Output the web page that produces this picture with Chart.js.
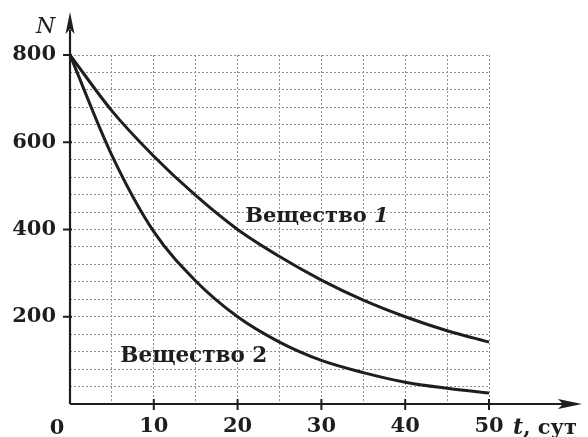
<!DOCTYPE html>
<html><head><meta charset="utf-8">
<script src="https://cdn.jsdelivr.net/npm/chart.js@4"></script>
<style>html,body{margin:0;padding:0;background:#fff}#wrap{width:588px;height:437px}</style>
</head><body><div id="wrap"><canvas id="c" width="588" height="437"></canvas></div>
<script>
const days = [0,5,10,15,20,25,30,35,40,45,50];
const substance1 = [800,672,568,478,400,338,284,238,200,168,142];
const substance2 = [800,570,395,282,200,142,100,72,50,36,25];
const seriesNames = ['Вещество 1','Вещество 2'];
const yLabelTicks = [200,400,600,800];
const xLabelTicks = [0,10,20,30,40,50];

const INK = '#1e1e1e';
const GRID = '#8f8f8f';
const FONT = '"DejaVu Serif", "Liberation Serif", serif';

const decor = {
  id:'decor',
  afterDraw(chart){
    const ctx = chart.ctx, xs = chart.scales.x, ys = chart.scales.y;
    const x0 = xs.getPixelForValue(0), y0 = ys.getPixelForValue(0);
    ctx.save();
    ctx.strokeStyle = INK; ctx.fillStyle = INK; ctx.lineWidth = 2.2;
    // y axis with arrow
    ctx.beginPath(); ctx.moveTo(x0, y0); ctx.lineTo(x0, 30); ctx.stroke();
    ctx.beginPath(); ctx.moveTo(x0, 12); ctx.lineTo(x0-4.5, 34); ctx.lineTo(x0, 29); ctx.lineTo(x0+4.5, 34); ctx.closePath(); ctx.fill();
    // x axis with arrow
    ctx.beginPath(); ctx.moveTo(x0, y0); ctx.lineTo(565, y0); ctx.stroke();
    ctx.beginPath(); ctx.moveTo(582, y0); ctx.lineTo(558, y0-5); ctx.lineTo(563, y0); ctx.lineTo(558, y0+5); ctx.closePath(); ctx.fill();
    // ticks
    ctx.lineWidth = 2;
    yLabelTicks.forEach(v=>{const p=ys.getPixelForValue(v); ctx.beginPath(); ctx.moveTo(x0-7,p); ctx.lineTo(x0+2,p); ctx.stroke();});
    xLabelTicks.slice(1).forEach(v=>{const p=xs.getPixelForValue(v); ctx.beginPath(); ctx.moveTo(p,y0-5); ctx.lineTo(p,y0+6); ctx.stroke();});
    // origin label
    ctx.textBaseline = 'alphabetic';
    ctx.textAlign = 'center';
    ctx.font = 'bold 21px ' + FONT;
    ctx.fillText(String(xLabelTicks[0]), x0 - 13, 434);
    // axis titles
    ctx.textAlign = 'left';
    ctx.font = 'italic 22px ' + FONT;
    ctx.fillText('N', 36, 33);
    ctx.font = 'italic bold 22px ' + FONT;
    ctx.fillText('t', 513, 434);
    const tw = ctx.measureText('t').width;
    ctx.font = 'bold 21px ' + FONT;
    ctx.fillText(', сут', 513 + tw, 434);
    // curve labels
    ctx.font = 'bold 21px ' + FONT;
    const l1x = xs.getPixelForValue(20.9), l1y = ys.getPixelForValue(417);
    ctx.fillText('Вещество ', l1x, l1y);
    const w1 = ctx.measureText('Вещество ').width;
    ctx.font = 'italic bold 21px ' + FONT;
    ctx.fillText('1', l1x + w1, l1y);
    ctx.font = 'bold 21.5px ' + FONT;
    const l2x = xs.getPixelForValue(6.0), l2y = ys.getPixelForValue(96);
    ctx.fillText('Вещество 2', l2x, l2y);
    ctx.restore();
  }
};

new Chart(document.getElementById('c'), {
  type:'line',
  data:{
    labels: days,
    datasets:[
      {label:seriesNames[0], data:days.map((d,i)=>({x:d,y:substance1[i]})), borderColor:INK, borderWidth:3, pointRadius:0, cubicInterpolationMode:'monotone', fill:false},
      {label:seriesNames[1], data:days.map((d,i)=>({x:d,y:substance2[i]})), borderColor:INK, borderWidth:3, pointRadius:0, cubicInterpolationMode:'monotone', fill:false}
    ]
  },
  options:{
    responsive:false, animation:false, devicePixelRatio:1,
    layout:{padding:{top:55,right:99,left:0,bottom:0}},
    plugins:{legend:{display:false}, tooltip:{enabled:false}},
    scales:{
      x:{type:'linear', min:0, max:50,
        afterFit(s){s.height=33;},
        border:{display:false, dash:[2,2]},
        grid:{color:GRID, lineWidth:1, drawTicks:false},
        ticks:{stepSize:5, padding:10, color:INK, font:{family:FONT, size:21, weight:'bold'}, maxRotation:0, autoSkip:false,
          callback:(v)=> (v !== 0 && xLabelTicks.includes(v)) ? String(v) : ''}
      },
      y:{type:'linear', min:0, max:800,
        afterFit(s){s.width=70;},
        border:{display:false, dash:[2,2]},
        grid:{color:GRID, lineWidth:1, drawTicks:false},
        ticks:{stepSize:40, padding:14, color:INK, font:{family:FONT, size:21, weight:'bold'}, autoSkip:false,
          callback:(v)=> yLabelTicks.includes(v) ? String(v) : ''}
      }
    }
  },
  plugins:[decor]
});
</script></body></html>
